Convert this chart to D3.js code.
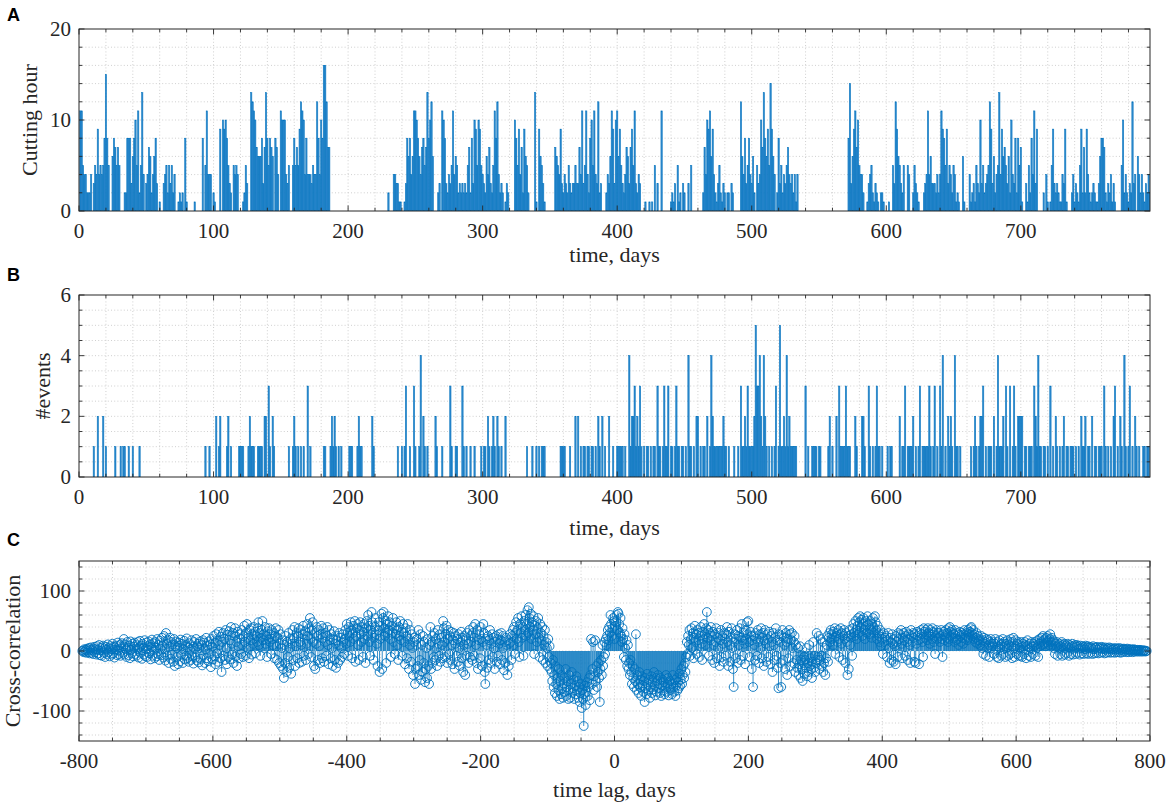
<!DOCTYPE html>
<html>
<head>
<meta charset="utf-8">
<script src="https://cdn.jsdelivr.net/npm/d3@7"></script>
<style>
	body { margin: 0; background: #fff; }
	svg text { font-family: 'Liberation Serif', 'Times New Roman', serif; fill: #262626; }
	svg text.letter { font-family: 'Liberation Sans', Arial, sans-serif; font-weight: bold; fill: #000; }
</style>
</head>
<body>
<svg id="chart" width="1170" height="809"></svg>
<script>
// cutting hours per day, day 1 .. 796 (20 days per line)
const cuttingHours = [
	11, 11, 5, 4, 4, 2, 2, 2, 4, 0, 3, 5, 4, 9, 4, 5, 4, 5, 8, 15,
	8, 5, 0, 0, 6, 8, 7, 5, 7, 5, 0, 0, 0, 2, 2, 8, 8, 8, 3, 6,
	8, 10, 5, 11, 2, 5, 13, 4, 0, 3, 4, 7, 6, 2, 4, 6, 8, 3, 0, 1,
	0, 0, 3, 4, 5, 2, 5, 3, 5, 2, 4, 0, 0, 1, 2, 1, 2, 0, 8, 1,
	0, 0, 0, 0, 0, 1, 0, 0, 0, 0, 0, 8, 0, 5, 11, 4, 4, 4, 0, 2,
	1, 0, 0, 0, 9, 0, 10, 9, 10, 8, 5, 3, 2, 0, 5, 4, 5, 4, 0, 0,
	0, 1, 2, 5, 3, 0, 0, 13, 12, 11, 10, 7, 6, 6, 6, 8, 3, 7, 13, 8,
	5, 8, 7, 6, 0, 8, 7, 4, 0, 11, 10, 10, 10, 4, 3, 5, 0, 0, 5, 8,
	5, 7, 5, 9, 12, 11, 10, 4, 8, 4, 4, 4, 3, 5, 4, 4, 12, 8, 4, 10,
	8, 16, 16, 12, 7, 7, 0, 0, 0, 0, 0, 0, 0, 0, 0, 0, 0, 0, 0, 0,
	0, 0, 0, 0, 0, 0, 0, 0, 0, 0, 0, 0, 0, 0, 0, 0, 0, 0, 0, 0,
	0, 0, 0, 0, 0, 0, 0, 0, 0, 2, 0, 0, 0, 4, 4, 3, 3, 1, 1, 0,
	0, 1, 3, 8, 6, 8, 4, 6, 11, 11, 10, 8, 6, 4, 7, 8, 5, 7, 13, 8,
	10, 12, 6, 0, 0, 0, 2, 3, 0, 11, 10, 8, 3, 2, 4, 3, 5, 11, 4, 6,
	5, 2, 3, 2, 3, 2, 3, 2, 5, 7, 2, 8, 3, 10, 9, 5, 10, 9, 5, 4,
	3, 2, 6, 4, 7, 3, 2, 5, 11, 8, 12, 4, 2, 3, 2, 0, 1, 3, 2, 0,
	0, 0, 0, 10, 8, 5, 9, 4, 7, 2, 9, 6, 5, 2, 0, 0, 0, 0, 13, 1,
	0, 9, 6, 5, 3, 1, 0, 0, 0, 0, 0, 0, 0, 7, 6, 5, 4, 9, 3, 2,
	4, 3, 2, 5, 3, 2, 3, 3, 5, 3, 3, 7, 4, 11, 3, 5, 11, 4, 2, 8,
	10, 5, 11, 4, 3, 12, 2, 3, 0, 0, 0, 2, 4, 3, 6, 11, 9, 3, 10, 11,
	6, 9, 5, 3, 2, 4, 7, 6, 3, 7, 9, 5, 11, 3, 2, 4, 3, 0, 0, 0,
	1, 0, 0, 1, 0, 1, 0, 5, 0, 3, 0, 0, 11, 0, 0, 0, 0, 0, 0, 1,
	2, 1, 3, 0, 5, 1, 2, 0, 3, 2, 0, 0, 3, 0, 5, 0, 0, 0, 0, 0,
	0, 0, 0, 2, 7, 4, 10, 9, 11, 6, 9, 4, 2, 1, 3, 5, 2, 1, 3, 2,
	0, 2, 2, 0, 3, 2, 0, 0, 0, 0, 0, 12, 6, 4, 8, 3, 5, 8, 4, 3,
	6, 2, 0, 5, 3, 4, 10, 7, 13, 8, 6, 9, 5, 14, 9, 6, 4, 0, 2, 8,
	3, 5, 2, 4, 3, 5, 7, 4, 3, 4, 2, 4, 1, 4, 0, 0, 0, 0, 0, 0,
	0, 0, 0, 0, 0, 0, 0, 0, 0, 0, 0, 0, 0, 0, 0, 0, 0, 0, 0, 0,
	0, 0, 0, 0, 0, 0, 0, 0, 0, 0, 0, 8, 14, 3, 6, 9, 11, 7, 10, 5,
	4, 4, 2, 0, 0, 1, 3, 4, 5, 2, 1, 3, 2, 1, 0, 2, 2, 1, 0, 0,
	0, 1, 0, 0, 5, 3, 12, 9, 6, 5, 3, 2, 5, 0, 0, 5, 4, 0, 0, 2,
	5, 3, 2, 1, 0, 0, 0, 2, 3, 4, 11, 4, 6, 3, 3, 3, 2, 4, 2, 4,
	11, 9, 8, 5, 9, 3, 5, 4, 2, 5, 4, 1, 2, 1, 0, 0, 6, 1, 0, 0,
	0, 4, 1, 2, 3, 1, 5, 3, 2, 10, 3, 5, 2, 3, 4, 5, 12, 9, 3, 6,
	2, 4, 5, 13, 4, 9, 6, 7, 5, 3, 6, 2, 10, 4, 3, 8, 2, 8, 5, 7,
	1, 0, 0, 3, 1, 5, 2, 8, 4, 11, 3, 9, 0, 0, 0, 0, 2, 0, 4, 1,
	0, 1, 5, 9, 3, 2, 3, 2, 1, 1, 4, 3, 9, 1, 0, 0, 0, 2, 4, 1,
	3, 2, 1, 5, 9, 2, 7, 2, 9, 4, 2, 1, 2, 3, 2, 1, 1, 3, 6, 8,
	8, 7, 2, 1, 3, 2, 4, 1, 3, 1, 0, 0, 0, 0, 5, 10, 2, 4, 2, 1,
	3, 2, 12, 3, 4, 0, 6, 4, 2, 4, 2, 1, 3, 2, 4, 2
];

// days with events, grouped by the number of events that day
const daysWith1Event = [
	11, 20, 27, 31, 33, 34, 37, 40, 45, 94, 97, 104, 110, 113, 119, 120, 121, 122, 126, 128,
	129, 130, 133, 134, 135, 136, 142, 145, 156, 159, 161, 163, 165, 167, 172, 182, 183, 187, 189, 191,
	193, 195, 201, 202, 203, 207, 209, 210, 219, 237, 240, 242, 246, 250, 253, 257, 259, 266, 270, 277,
	280, 281, 286, 288, 291, 294, 299, 301, 302, 305, 307, 309, 312, 314, 333, 337, 340, 342, 344, 345,
	346, 358, 359, 360, 361, 365, 373, 375, 376, 378, 379, 381, 382, 384, 387, 391, 397, 400, 401, 402,
	403, 404, 406, 410, 414, 416, 418, 420, 422, 423, 425, 427, 428, 431, 432, 434, 436, 437, 440, 441,
	443, 445, 446, 448, 449, 451, 454, 455, 457, 462, 464, 465, 469, 472, 473, 474, 475, 476, 477, 478,
	480, 481, 483, 487, 490, 493, 494, 496, 498, 499, 500, 501, 508, 511, 513, 515, 517, 520, 522, 523,
	525, 527, 529, 530, 531, 532, 533, 542, 545, 546, 547, 548, 550, 551, 557, 560, 566, 567, 568, 569,
	571, 572, 573, 578, 584, 588, 590, 592, 594, 595, 597, 601, 603, 604, 612, 613, 616, 617, 618, 619,
	622, 624, 627, 628, 629, 630, 631, 633, 635, 638, 641, 644, 647, 649, 652, 653, 655, 663, 665, 667,
	669, 674, 676, 677, 678, 682, 684, 685, 686, 690, 694, 696, 703, 704, 706, 707, 708, 712, 714, 715,
	717, 718, 720, 724, 727, 729, 731, 734, 735, 737, 738, 739, 741, 743, 746, 747, 750, 751, 755, 756,
	758, 759, 760, 763, 765, 767, 772, 775, 778, 780, 783, 786, 788, 791, 792, 794, 795
];
const daysWith2Events = [
	14, 18, 102, 105, 111, 127, 138, 139, 144, 160, 188, 190, 208, 218, 256, 265, 304, 308, 311, 317,
	369, 371, 386, 389, 394, 411, 412, 415, 459, 460, 467, 471, 479, 495, 502, 507, 510, 524, 528, 558,
	563, 577, 582, 583, 610, 620, 646, 648, 666, 670, 671, 680, 687, 698, 699, 700, 701, 711, 726, 732,
	745, 748, 753, 769, 774, 785
];
const daysWith3Events = [
	141, 170, 243, 249, 276, 285, 413, 417, 430, 435, 438, 444, 492, 497, 504, 505, 518, 540, 565, 570,
	587, 593, 614, 625, 632, 636, 640, 672, 689, 692, 695, 710, 722, 762, 770, 781
];
const daysWith4Events = [254, 409, 453, 470, 506, 509, 526, 642, 651, 683, 713, 777];
const daysWith5Events = [503, 521];

// cross-correlation, lag -795 .. 795 (20 lags per line)
const crossCorr = [
	0, 1, -2, 3, -1, 2, -3, 4, 1, -2, 5, -4, 2, 6, -3, 1, -5, 4, 7, -2,
	3, -6, 8, 2, -4, 10, -7, 5, 1, -8, 6, 9, -3, 4, -10, 7, 2, -5, 11, -2,
	5, -9, 8, 3, -6, 12, -4, 7, -11, 6, 2, 9, -7, 14, 1, -5, 10, -8, 4, 13,
	-3, 8, 20, -6, 11, 3, -10, 15, 5, -7, 9, -12, 16, 2, -4, 12, -9, 7, 14, -5,
	10, -8, 4, 15, -11, 6, 17, -3, 9, -13, 12, 5, -6, 18, -9, 3, 14, -10, 8, 16,
	-4, 11, -14, 7, 19, -8, 13, 2, -12, 15, 6, -9, 20, -5, 10, -15, 17, 4, -7, 22,
	9, -11, 25, 3, -16, 30, 12, -8, 18, -20, 7, 22, -13, 15, -6, 11, -18, 20, -25, 8,
	16, -10, 5, -22, 14, 9, -17, 19, -6, 12, -20, 3, 17, -14, 10, -8, 21, -12, 6, -18,
	13, 2, -15, 18, -9, 7, -21, 15, 4, -11, 20, -16, 8, 12, -19, 5, 16, -13, 10, -24,
	18, -7, 14, -20, 3, 22, -12, 9, -17, 16, -5, 11, -27, 20, 7, -14, 25, -9, 13, -22,
	28, -4, 17, -18, 32, 10, -12, 24, -35, 15, 30, -8, 20, -15, 35, 5, -22, 27, -10, 33,
	18, -14, 40, 12, -6, 30, -20, 25, 38, -9, 15, -25, 32, 8, -12, 28, 20, -5, 35, 10,
	-10, 25, 42, 15, -8, 30, 45, 5, 22, -12, 35, 18, 38, -6, 28, 12, 40, 20, -4, 32,
	25, 15, 38, 48, 10, 30, -8, 22, 35, 50, 18, 28, 5, 40, 12, 25, -10, 33, 20, 38,
	15, 28, -5, 35, 20, 10, 30, -12, 25, 38, 8, -15, 22, 35, -20, 12, 28, -25, 5, 18,
	-30, -45, 10, -20, 25, -35, 15, -10, 30, -28, 5, 20, -38, 12, 35, -15, 22, 40, -25, 8,
	30, -12, 25, 38, -20, 15, 35, 10, -18, 28, 42, -8, 20, 33, -15, 12, 45, 25, -5, 38,
	55, 20, -10, 35, 48, 15, -25, 30, -30, 12, 40, 25, -15, 35, 8, -20, 28, 42, -12, 22,
	38, -18, 15, 30, -8, 25, 40, 10, -22, 35, 18, -12, 28, 5, -25, 20, 33, -15, 12, -28,
	18, 25, -20, 10, 30, -15, 22, 5, -10, 28, 15, -5, 20, 35, 12, 45, 30, -8, 40, 25,
	15, 48, 35, -12, 30, 42, 20, 50, -18, 25, 38, 45, 10, -15, 35, 48, 28, 15, 40, -10,
	32, 45, 20, -20, 38, 50, 25, 60, 42, 15, -8, 35, 65, 48, 30, -15, 22, 40, 55, 28,
	12, -25, 35, 48, -35, 20, 42, 62, -30, 55, 65, 38, 25, 50, -20, 45, 30, 58, 35, 48,
	20, -10, 42, 30, 55, 15, 38, -5, 28, 48, 35, 10, -15, 40, 25, 50, 18, 32, -8, 45,
	30, 15, -22, 38, 25, -12, 45, 20, -30, 10, 35, -18, 28, 5, -40, 15, 22, -55, -30, 10,
	20, -25, 35, -40, -15, 28, -48, 10, -35, 25, -20, 15, -52, -30, 5, -45, 20, -25, -55, 10,
	40, -30, 15, -20, 25, -10, 30, -15, 20, 5, -25, 35, 12, -8, 28, -18, 22, 10, -12, 50,
	38, 15, -10, 28, 42, -20, 20, 35, -5, 25, -15, 32, 10, -22, 18, 30, -30, 12, 25, -8,
	20, -18, 28, 5, -25, 15, 32, -12, 22, -35, 10, 25, -40, 18, -8, 30, 12, -20, 35, -10,
	25, 15, -15, 30, 40, -8, 22, 45, 10, -20, 35, -30, 18, 28, -12, 40, 20, -25, 15, 45,
	30, -35, -55, 20, 10, -28, 25, -15, 18, 35, -20, 12, 28, -10, 22, 5, -30, 15, 25, -18,
	20, -8, 28, 12, -22, 18, 30, -15, 25, 5, -32, 15, -20, 22, 10, -40, 18, -25, 12, 28,
	15, -15, 25, 35, 10, 40, -5, 30, 48, 20, 35, 55, 15, -10, 45, 30, 58, 22, 40, -8,
	50, 35, 60, 25, 45, 68, 30, 73, 55, 40, 62, 20, 48, 35, 58, -5, 42, 28, 50, 15,
	38, 55, 22, -10, 45, 30, 18, 40, -15, 25, 10, 35, -20, 15, 5, -25, 20, -10, 8, -30,
	-20, -35, -50, -15, -60, -40, -70, -25, -55, -75, -45, -65, -30, -80, -50, -72, -40, -62, -78, -55,
	-45, -68, -30, -75, -60, -50, -80, -40, -65, -78, -55, -35, -70, -62, -48, -80, -58, -72, -42, -66,
	-50, -78, -60, -85, -70, -55, -95, -65, -80, -125, -72, -58, -90, -68, -52, -75, -60, -45, -82, -40,
	20, -55, -30, 15, -65, -42, 18, -50, -25, -60, -35, -20, -45, -85, -30, -15, -40, 10, -25, -10,
	15, -5, 20, 10, 25, 35, 18, 40, 30, 60, 45, 25, 38, 55, 50, 20, 42, 48, 60, 35,
	65, 62, 45, 30, 55, 25, 15, 38, 20, -10, 28, 5, -15, 18, -25, 10, -30, -20, -40, -15,
	-35, -55, -25, -45, -60, -30, -50, 28, -65, -40, -55, -70, -35, -60, -48, -75, -42, -58, -68, -50,
	-85, -45, -62, -72, -38, -55, -66, -48, -78, -60, -42, -70, -52, -64, -35, -58, -74, -45, -68, -50,
	-40, -62, -55, -70, -45, -75, -58, -48, -66, -52, -72, -60, -40, -68, -56, -45, -74, -62, -50, -65,
	-55, -72, -40, -60, -68, -48, -75, -58, -45, -66, -52, -62, -38, -58, -48, -30, -55, -40, -25, -45,
	-20, -35, -10, 15, -5, 25, 10, 35, -8, 20, 38, 5, 30, -12, 22, 42, 15, 28, -5, 35,
	18, 30, -10, 25, 40, 12, -15, 32, 20, 45, 28, 10, 38, 65, 22, 35, -8, 30, 18, 40,
	25, -15, 32, 10, -20, 28, 15, 38, -12, 22, 5, 30, -25, 18, 35, -10, 25, 12, -18, 30,
	20, -8, 28, 40, 15, -25, 32, 10, -18, 22, 38, 5, -30, -60, 15, 28, -12, 20, 35, -20,
	25, 10, 38, -15, 22, 45, 18, -8, 30, 12, -22, 35, 20, 48, 28, 50, 15, -10, 32, 25,
	-30, 18, -60, 25, 10, -15, 30, 20, -8, 35, 15, -20, 28, 5, 38, -12, 22, 30, -25, 18,
	35, 12, -18, 28, 20, -10, 32, 8, -22, 25, 15, -35, 30, 10, -15, 22, 38, -8, 18, -28,
	-62, 28, 15, -20, -60, 25, 35, -15, 22, 10, -30, 30, 15, -40, 20, -12, 35, 28, -25, 18,
	30, 5, -20, 15, 25, -35, 10, -15, -28, 5, -40, -22, 8, -45, -15, -30, -50, -20, -10, -38,
	-15, -28, 5, -42, -20, -35, 10, -25, -12, -30, -45, -18, 15, -28, -8, -35, -20, 30, -15, -10,
	25, -30, -15, 20, -8, -25, 15, -35, -20, 5, -40, -12, 10, 25, -18, 22, 30, 15, 35, 20,
	28, 10, 32, 22, 38, -5, 25, 30, 15, 35, 20, -10, 28, 38, 12, 30, -15, 25, 35, 20,
	-20, 30, 15, -40, 25, -30, 35, 10, 22, 28, -8, 38, 45, 30, 25, 50, 35, 20, 42, 55,
	30, 48, 58, 40, 52, 25, 45, 55, 35, 20, 50, 42, 30, 58, 45, 28, 38, 50, 35, 22,
	45, 55, 40, 30, 58, 48, 35, 20, 42, 30, 25, 15, 35, 8, 28, 20, -5, 30, 15, 22,
	10, 25, -10, 18, 30, 5, -20, 22, 15, -15, 28, 12, -18, 20, 8, -22, 25, 15, -10, 30,
	20, 5, 28, 35, 12, -12, 22, 30, 18, -8, 25, 32, 15, -15, 20, 28, 10, -20, 35, 25,
	15, 30, 22, -18, 28, -20, 12, 32, 25, 18, -22, 30, 20, 35, 28, 15, -10, 38, 32, 22,
	35, 28, 18, 38, 30, 25, 12, 35, 28, 20, 38, 32, 15, 30, -5, 25, 35, 20, 30, 22,
	30, 15, 25, 35, 20, -10, 28, 32, 18, 25, 35, 22, 30, 15, 38, 20, 40, 32, 25, 35,
	22, 30, 28, 15, 35, 25, 18, 30, 20, 10, 28, 32, 25, 15, 30, 22, 12, 28, 35, 20,
	25, 30, 18, 35, 22, 28, 32, 38, 40, 30, 25, 35, 20, 28, 15, 22, 30, 12, 25, 18,
	20, 10, 15, 25, 5, 18, -5, 22, 12, 15, -8, 20, 5, 18, 10, -10, 15, 20, 5, 12,
	8, 15, -5, 12, 20, 2, -10, 15, 8, -12, 18, 5, 10, -8, 12, 20, -5, 15, 8, -10,
	12, 5, 18, -8, 10, 15, -5, 20, 8, -12, 15, 22, 5, -10, 18, 8, -5, 12, 15, -8,
	10, 5, -8, 15, -10, 12, 8, -5, 15, 10, -12, 8, 18, 2, -8, 12, 5, -10, 15, 8,
	-5, 12, 8, 15, -8, 10, 5, 18, -10, 12, 20, 8, 15, 22, 10, 25, 18, 12, 20, 8,
	22, 15, 25, 18, 10, 20, 28, 15, 22, 10, 18, 5, 15, -5, 12, 8, 15, -8, 10, 5,
	12, -5, 8, 15, -8, 10, 5, 12, -6, 8, 10, -4, 12, 6, -8, 10, 5, -5, 8, 12,
	-6, 8, 5, 10, -5, 7, 10, -3, 8, 4, -6, 9, 5, -4, 8, 6, -5, 7, 3, 9,
	-4, 6, 8, -5, 5, 7, -3, 6, 4, -5, 8, 3, -4, 6, 5, -3, 7, 2, -4, 5,
	6, -3, 4, 7, -2, 5, 3, -4, 6, 2, -3, 5, 4, -2, 6, 3, -3, 5, 2, -2,
	4, 3, -3, 5, 2, -2, 4, 3, -2, 5, 1, -3, 4, 2, -2, 3, 4, -1, 2, 3,
	-2, 4, 1, -2, 3, 2, -1, 3, 1, -2, 2, 3, -1, 2, 1, -1, 2, 1, -1, 1,
	2, -1, 1, 1, -1, 1, 0, 1, -1, 0, 0
];
const firstLag = -795;

const dayTicks = [0, 100, 200, 300, 400, 500, 600, 700];
const hourTicks = [0, 10, 20];
const eventTicks = [0, 2, 4, 6];
const lagTicks = [-800, -600, -400, -200, 0, 200, 400, 600, 800];
const corrTicks = [-100, 0, 100];

// ---- build series ----
const hoursSeries = cuttingHours.map((v, i) => ({ day: i + 1, value: v }));

const eventsByDay = new Map();
[daysWith1Event, daysWith2Events, daysWith3Events, daysWith4Events, daysWith5Events]
	.forEach((days, k) => days.forEach(d => eventsByDay.set(d, k + 1)));
const eventsSeries = Array.from(eventsByDay, ([day, value]) => ({ day, value }));

const corrSeries = crossCorr.map((v, i) => ({ lag: firstLag + i, value: v }));

// ---- layout ----
const svg = d3.select('#chart');
const plotLeft = 79;
const plotRight = 1150;
const blue = '#0072BD';
const barFill = '#2d88cd';

const panels = [
	{ id: 'A', top: 29, bottom: 211, xDomain: [0, 796], yDomain: [0, 20], xTicks: dayTicks, xMinor: 20,
		yTicks: hourTicks, yMinor: 2, xLabel: 'time, days', yLabel: 'Cutting hour', yLabelX: 37, letterY: 21 },
	{ id: 'B', top: 295, bottom: 477, xDomain: [0, 796], yDomain: [0, 6], xTicks: dayTicks, xMinor: 20,
		yTicks: eventTicks, yMinor: 0.5, xLabel: 'time, days', yLabel: '#events', yLabelX: 50, letterY: 281 },
	{ id: 'C', top: 561, bottom: 741, xDomain: [-800, 800], yDomain: [-150, 150], xTicks: lagTicks, xMinor: 50,
		yTicks: corrTicks, yMinor: 20, xLabel: 'time lag, days', yLabel: 'Cross-correlation', yLabelX: 20, letterY: 546 }
];

function stepValues(domain, step) {
	const start = Math.ceil(domain[0] / step) * step;
	return d3.range(start, domain[1] + step * 1e-6, step);
}

function drawGrid(g, p, x, y) {
	const xs = stepValues(p.xDomain, p.xMinor).filter(v => v > p.xDomain[0] && v < p.xDomain[1]);
	const ys = stepValues(p.yDomain, p.yMinor).filter(v => v > p.yDomain[0] && v < p.yDomain[1]);
	g.append('g')
		.selectAll('line')
		.data(xs)
		.join('line')
		.attr('x1', d => x(d)).attr('x2', d => x(d))
		.attr('y1', p.top).attr('y2', p.bottom);
	g.append('g')
		.selectAll('line')
		.data(ys)
		.join('line')
		.attr('x1', plotLeft).attr('x2', plotRight)
		.attr('y1', d => y(d)).attr('y2', d => y(d));
	g.selectAll('line')
		.attr('stroke', '#c4c4c4')
		.attr('stroke-width', 0.8)
		.attr('stroke-dasharray', '1,2.2');
}

function drawFrame(g, p, x, y) {
	const axisColor = '#262626';
	const xMinors = stepValues(p.xDomain, p.xMinor);
	const yMinors = stepValues(p.yDomain, p.yMinor);
	const ticks = g.append('g').attr('stroke', axisColor).attr('stroke-width', 0.9);
	// x ticks, bottom and top, pointing inwards
	xMinors.forEach(v => {
		const len = p.xTicks.includes(v) ? 5.5 : 3.3;
		ticks.append('line').attr('x1', x(v)).attr('x2', x(v)).attr('y1', p.bottom).attr('y2', p.bottom - len);
		ticks.append('line').attr('x1', x(v)).attr('x2', x(v)).attr('y1', p.top).attr('y2', p.top + len);
	});
	yMinors.forEach(v => {
		const len = p.yTicks.includes(v) ? 5.5 : 3.3;
		ticks.append('line').attr('x1', plotLeft).attr('x2', plotLeft + len).attr('y1', y(v)).attr('y2', y(v));
		ticks.append('line').attr('x1', plotRight).attr('x2', plotRight - len).attr('y1', y(v)).attr('y2', y(v));
	});
	g.append('rect')
		.attr('x', plotLeft).attr('y', p.top)
		.attr('width', plotRight - plotLeft).attr('height', p.bottom - p.top)
		.attr('fill', 'none').attr('stroke', axisColor).attr('stroke-width', 1);

	// tick labels
	g.append('g')
		.selectAll('text')
		.data(p.xTicks)
		.join('text')
		.attr('x', d => x(d))
		.attr('y', p.bottom + 27)
		.attr('text-anchor', 'middle')
		.style('font-size', '21px')
		.text(d => String(d));
	g.append('g')
		.selectAll('text')
		.data(p.yTicks)
		.join('text')
		.attr('x', 71)
		.attr('y', d => y(d))
		.attr('dy', '0.34em')
		.attr('text-anchor', 'end')
		.style('font-size', '21px')
		.text(d => String(d));

	// axis labels
	const xLabelY = { A: 262, B: 535, C: 797 }[p.id];
	g.append('text')
		.attr('x', (plotLeft + plotRight) / 2)
		.attr('y', xLabelY)
		.attr('text-anchor', 'middle')
		.style('font-size', '22px')
		.text(p.xLabel);
	g.append('text')
		.attr('transform', `translate(${p.yLabelX},${(p.top + p.bottom) / 2}) rotate(-90)`)
		.attr('text-anchor', 'middle')
		.style('font-size', '22px')
		.text(p.yLabel);

	g.append('text')
		.attr('class', 'letter')
		.attr('x', 7)
		.attr('y', p.letterY)
		.style('font-size', '18px')
		.text(p.id);
}

function drawBars(g, series, x, y) {
	const w = x(1) - x(0);
	g.selectAll('rect')
		.data(series.filter(d => d.value > 0))
		.join('rect')
		.attr('x', d => x(d.day - 0.5))
		.attr('width', w)
		.attr('y', d => y(d.value))
		.attr('height', d => y(0) - y(d.value))
		.attr('fill', barFill)
		.attr('stroke', blue)
		.attr('stroke-width', 0.5);
}

function drawStems(g, series, x, y) {
	g.append('g')
		.selectAll('line')
		.data(series)
		.join('line')
		.attr('x1', d => x(d.lag)).attr('x2', d => x(d.lag))
		.attr('y1', y(0)).attr('y2', d => y(d.value))
		.attr('stroke', blue)
		.attr('stroke-width', 0.8);
	g.append('g')
		.selectAll('circle')
		.data(series)
		.join('circle')
		.attr('cx', d => x(d.lag))
		.attr('cy', d => y(d.value))
		.attr('r', 4.4)
		.attr('fill', 'none')
		.attr('stroke', blue)
		.attr('stroke-width', 0.9);
}

panels.forEach(p => {
	const x = d3.scaleLinear().domain(p.xDomain).range([plotLeft, plotRight]);
	const y = d3.scaleLinear().domain(p.yDomain).range([p.bottom, p.top]);
	const g = svg.append('g').attr('class', `panel-${p.id}`);

	const clipId = `clip-${p.id}`;
	svg.append('defs').append('clipPath').attr('id', clipId)
		.append('rect')
		.attr('x', plotLeft).attr('y', p.top)
		.attr('width', plotRight - plotLeft).attr('height', p.bottom - p.top);

	drawGrid(g.append('g'), p, x, y);
	const marks = g.append('g');
	if (p.id === 'A') drawBars(marks.attr('clip-path', `url(#${clipId})`), hoursSeries, x, y);
	if (p.id === 'B') drawBars(marks.attr('clip-path', `url(#${clipId})`), eventsSeries, x, y);
	if (p.id === 'C') drawStems(marks, corrSeries, x, y);
	drawFrame(g.append('g'), p, x, y);
});
</script>
</body>
</html>
